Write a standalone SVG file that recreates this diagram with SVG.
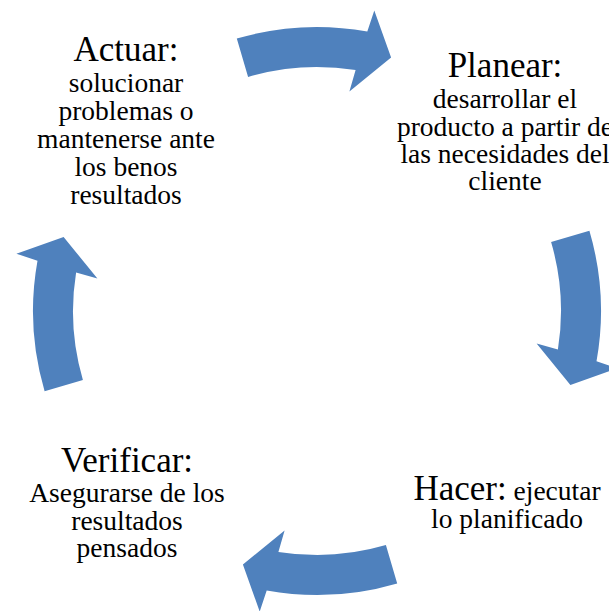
<svg xmlns="http://www.w3.org/2000/svg" width="609" height="611" viewBox="0 0 609 611" font-family="Liberation Serif">
  <style>
    text { font-family: "Liberation Serif", serif; fill: #000000; text-anchor: middle; }
    .title { font-size: 35px; }
    .body { font-size: 27.5px; }
    .arrow { fill: #4F81BD; }
  </style>
  <defs>
    <path id="arc-arrow" class="arrow" d="M236.8,38.6 A284,284 0 0 1 367.3,31.5 L374.3,10.4 L391.1,57.6 L349.4,91.4 L355.6,70.1 A244,244 0 0 0 248.1,76.9 Z"/>
  </defs>
  <rect width="609" height="611" fill="#ffffff"/>
  <g id="connectors">
    <use href="#arc-arrow"/>
    <use href="#arc-arrow" transform="rotate(90 317 311)"/>
    <use href="#arc-arrow" transform="rotate(180 317 311)"/>
    <use href="#arc-arrow" transform="rotate(270 317 311)"/>
  </g>
  <g id="node-planear" font-family="Liberation Serif">
    <text x="505" y="77" class="title">Planear:</text>
    <text x="505" y="108" class="body">desarrollar el</text>
    <text x="505" y="135.5" class="body">producto a partir de</text>
    <text x="505" y="162.5" class="body">las necesidades del</text>
    <text x="505" y="189.5" class="body">cliente</text>
  </g>
  <g id="node-hacer" font-family="Liberation Serif">
    <text x="507" y="500"><tspan class="title">Hacer:</tspan><tspan class="body"> ejecutar</tspan></text>
    <text x="507" y="528" class="body">lo planificado</text>
  </g>
  <g id="node-verificar" font-family="Liberation Serif">
    <text x="127" y="472" class="title">Verificar:</text>
    <text x="127" y="502" class="body">Asegurarse de los</text>
    <text x="127" y="530" class="body">resultados</text>
    <text x="127" y="557" class="body">pensados</text>
  </g>
  <g id="node-actuar" font-family="Liberation Serif">
    <text x="126" y="61" class="title">Actuar:</text>
    <text x="126" y="92" class="body">solucionar</text>
    <text x="126" y="120" class="body">problemas o</text>
    <text x="126" y="148" class="body">mantenerse ante</text>
    <text x="126" y="176" class="body">los benos</text>
    <text x="126" y="204" class="body">resultados</text>
  </g>
</svg>
